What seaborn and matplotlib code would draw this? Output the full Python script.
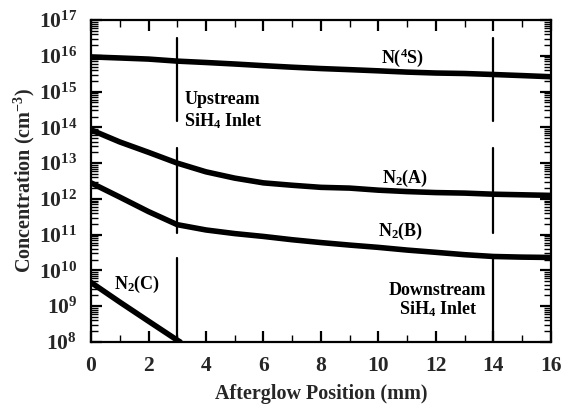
import numpy as np
import pandas as pd
import seaborn as sns
import matplotlib.pyplot as plt
from matplotlib.ticker import FuncFormatter, LogLocator, MultipleLocator, NullFormatter

# ---- data ----
pos = [0, 1, 2, 3, 4, 5, 6, 7, 8, 9, 10, 11, 12, 13, 14, 15, 16]
n4s = [9.3e15, 8.7e15, 8.1e15, 7.1e15, 6.5e15, 5.9e15, 5.3e15, 4.8e15, 4.4e15,
       4.1e15, 3.8e15, 3.5e15, 3.3e15, 3.2e15, 3.0e15, 2.8e15, 2.6e15]
n2a = [8.5e13, 3.9e13, 2.0e13, 1.0e13, 5.7e12, 3.8e12, 2.8e12, 2.4e12, 2.1e12,
       2.0e12, 1.75e12, 1.6e12, 1.5e12, 1.45e12, 1.35e12, 1.3e12, 1.25e12]
n2b = [2.8e12, 1.12e12, 4.4e11, 1.9e11, 1.35e11, 1.07e11, 8.9e10, 7.2e10, 6.0e10,
       5.1e10, 4.4e10, 3.7e10, 3.2e10, 2.75e10, 2.45e10, 2.35e10, 2.3e10]
pos_c = [0, 1, 2, 3, 3.1]
n2c = [4.6e9, 1.3e9, 3.8e8, 1.12e8, 1.0e8]

inlet_x = [3, 14]
inlet_segments = [(3.2e16, 1.5e14), (2.6e13, 1.1e11), (2.2e10, 1e8)]

species_labels = ['N4S', 'N2A', 'N2B', 'N2C']

frames = []
for name, xs, ys in [('N4S', pos, n4s), ('N2A', pos, n2a), ('N2B', pos, n2b), ('N2C', pos_c, n2c)]:
    frames.append(pd.DataFrame({'pos': xs, 'conc': ys, 'species': name}))
df = pd.concat(frames, ignore_index=True)

# ---- style ----
sns.set_theme(style='ticks')
plt.rcParams['font.family'] = ['Liberation Serif', 'DejaVu Serif']
plt.rcParams['font.weight'] = 'bold'
plt.rcParams['mathtext.fontset'] = 'custom'
plt.rcParams['mathtext.rm'] = 'Liberation Serif:bold'
plt.rcParams['mathtext.it'] = 'Liberation Serif:bold'
plt.rcParams['mathtext.bf'] = 'Liberation Serif:bold'

fig = plt.figure(figsize=(5.62, 4.09), dpi=100)
ax = fig.add_axes([0.162, 0.164, 0.818, 0.787])

sns.lineplot(data=df, x='pos', y='conc', hue='species', units='species',
             estimator=None, sort=False,
             palette={s: 'black' for s in species_labels}, linewidth=4.0,
             legend=False, ax=ax)

for xv in inlet_x:
    for (ytop, ybot) in inlet_segments:
        ax.plot([xv, xv], [ybot, ytop], color='black', lw=1.6)

ax.set_yscale('log')
ax.set_xlim(0, 16)
ax.set_ylim(1e8, 1e17)

ax.xaxis.set_major_locator(MultipleLocator(2))
ax.xaxis.set_minor_locator(MultipleLocator(1))
ax.yaxis.set_major_locator(LogLocator(base=10, numticks=20))
ax.yaxis.set_minor_locator(LogLocator(base=10, subs=np.arange(2, 10), numticks=20))
ax.yaxis.set_minor_formatter(NullFormatter())
ax.yaxis.set_major_formatter(FuncFormatter(lambda v, p: r'$\mathbf{10^{%d}}$' % round(np.log10(v))))

ax.tick_params(which='both', direction='in', top=True, right=True, color='black')
ax.tick_params(which='major', length=8, width=1.6, labelsize=15.5)
ax.tick_params(axis='x', which='major', pad=10)
ax.tick_params(axis='y', which='major', pad=10)
ax.tick_params(which='minor', length=5, width=1.0)
for lab in ax.get_xticklabels():
    lab.set_fontweight('bold')
for sp in ax.spines.values():
    sp.set_linewidth(1.6)
    sp.set_color('black')

ax.set_xlabel('Afterglow Position (mm)', fontsize=14.5, fontweight='bold', labelpad=6)
ax.set_ylabel(r'Concentration (cm$^{-3}$)', fontsize=14.5, fontweight='bold', labelpad=1)

tkw = dict(fontsize=13, fontweight='bold', color='black')
ax.text(10.85, 8.6e15, r'N($^{4}$S)', ha='center', va='center', **tkw)
ax.text(3.25, 6e14, 'Upstream', ha='left', va='center', **tkw)
ax.text(3.25, 1.5e14, r'SiH$_{4}$ Inlet', ha='left', va='center', **tkw)
ax.text(10.93, 3.8e12, r'N$_{2}$(A)', ha='center', va='center', **tkw)
ax.text(10.78, 1.25e11, r'N$_{2}$(B)', ha='center', va='center', **tkw)
ax.text(13.75, 2.8e9, 'Downstream', ha='right', va='center', **tkw)
ax.text(13.45, 8.0e8, r'SiH$_{4}$ Inlet', ha='right', va='center', **tkw)
ax.text(1.6, 4.0e9, r'N$_{2}$(C)', ha='center', va='center', **tkw)

fig.savefig('out.png', dpi=100)
